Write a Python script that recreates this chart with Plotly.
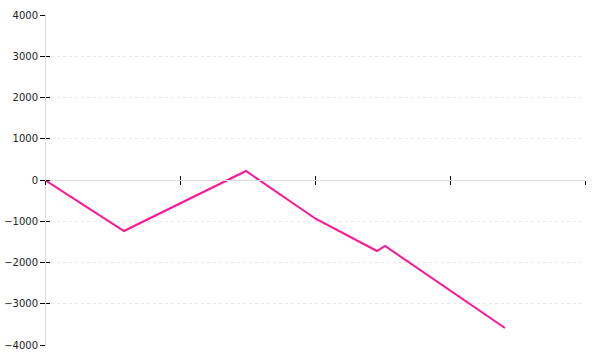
import plotly.graph_objects as go

# Data (x in axis units, ticks at 0..4 without labels)
x_vals = [0, 0.585, 1.489, 2.007, 2.459, 2.519, 3.407]
y_vals = [0, -1236, 218, -945, -1721, -1600, -3588]
y_ticks = [-4000, -3000, -2000, -1000, 0, 1000, 2000, 3000, 4000]
x_ticks = [0, 1, 2, 3, 4]

fig = go.Figure()
fig.add_trace(go.Scatter(x=x_vals, y=y_vals, mode="lines",
                         line=dict(color="#ff1493", width=2), hoverinfo="skip",
                         showlegend=False))

font = dict(family="DejaVu Sans", size=10, color="#222")

fig.update_layout(
    width=600, height=360,
    margin=dict(l=45, r=15, t=15, b=15, autoexpand=False),
    paper_bgcolor="white", plot_bgcolor="white",
    showlegend=False,
    font=font,
    xaxis=dict(range=[0, 4], tickvals=x_ticks, showticklabels=False,
               ticks="outside", ticklen=4, tickwidth=1, tickcolor="#000",
               showgrid=False, zeroline=False, showline=True, linecolor="#dddddd",
               linewidth=1, anchor="free", position=0.5, automargin=False),
    xaxis2=dict(range=[0, 4], tickvals=x_ticks, showticklabels=False,
                ticks="inside", ticklen=4, tickwidth=1, tickcolor="#000",
                showgrid=False, zeroline=False, showline=False,
                overlaying="x", anchor="free", position=0.5, automargin=False),
    yaxis=dict(range=[-4000, 4000], tickvals=y_ticks,
               ticktext=[str(v).replace("-", "\u2212") for v in y_ticks],
               ticks="outside", ticklen=5, tickwidth=1, tickcolor="#000",
               showgrid=True, gridcolor="#e8e8e8", griddash="dot", gridwidth=1,
               zeroline=False, showline=True, linecolor="#dddddd", linewidth=1,
               anchor="free", position=0, tickfont=font, automargin=False),
    yaxis2=dict(range=[-4000, 4000], tickvals=y_ticks, showticklabels=False,
                ticks="inside", ticklen=4, tickwidth=1, tickcolor="#000",
                showgrid=False, zeroline=False, showline=False,
                overlaying="y", anchor="free", position=0, automargin=False),
)
# invisible helper trace so the overlay axes are drawn
fig.add_trace(go.Scatter(x=[None], y=[None], xaxis="x2", yaxis="y2",
                         showlegend=False, hoverinfo="skip"))

fig.write_html("out.html")
